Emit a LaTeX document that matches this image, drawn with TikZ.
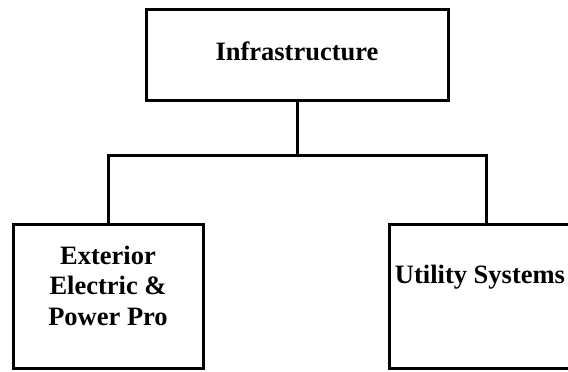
\documentclass[tikz,border=0pt]{standalone}
\usepackage{fontspec}
\setmainfont{Liberation Serif}
\begin{document}
\begin{tikzpicture}[x=1pt,y=-1pt,
  box/.style={draw=black, line width=3pt, rectangle, inner sep=0pt},
  lbl/.style={font=\fontsize{26.5}{30.5}\selectfont\bfseries, anchor=base,
              inner sep=0pt, align=center},
  wire/.style={line width=3pt, line join=miter}]
\useasboundingbox (0,0) rectangle (568,372);
\clip (0,0) rectangle (568,372);

% boxes
\node[box, minimum width=302pt, minimum height=91pt] (infra) at (297,54.5) {};
\node[box, minimum width=190pt, minimum height=144pt] (ext) at (108,296) {};
\node[box, minimum width=194pt, minimum height=144pt] (util) at (486,296) {};

% labels (base anchor sits on the last line)
\node[lbl] (infraT) at (297,60) {Infrastructure};
\node[lbl] (extT) at (108,325) {Exterior\\Electric \&\\Power Pro};
\node[lbl] (utilT) at (480,283) {Utility Systems};

% tree connectors
\coordinate (bus) at (297,155);
\draw[wire] (infra.south) -- (bus);
\draw[wire] (ext.north) |- (bus) -| (util.north);
\end{tikzpicture}
\end{document}
